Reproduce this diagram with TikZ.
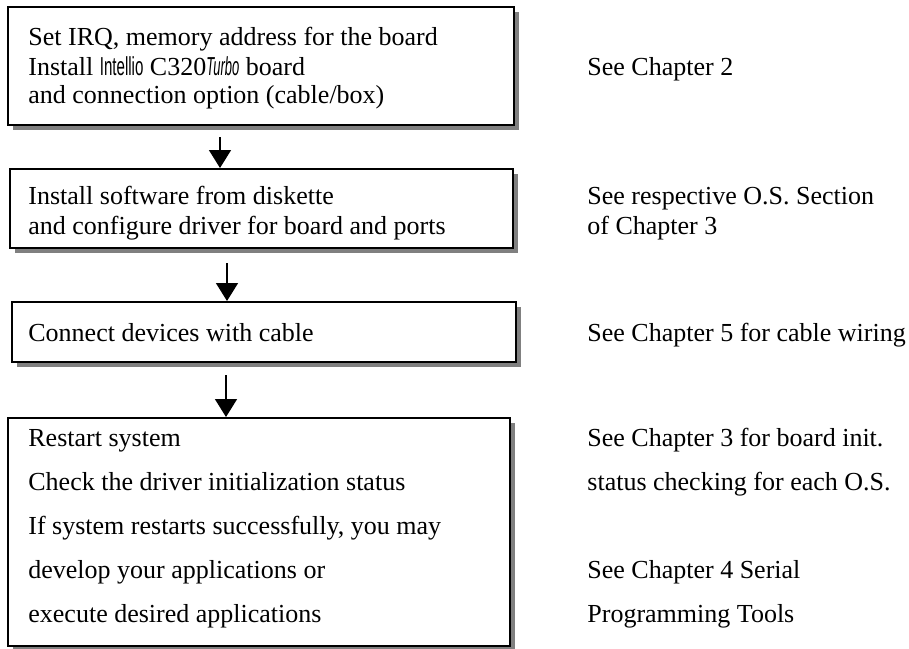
\documentclass[tikz,border=0pt]{standalone}
\usepackage{fontspec}
\setmainfont{Liberation Serif}
\newfontfamily\narrowsans[FakeStretch=0.58]{Liberation Sans}
\newfontfamily\narrowsansit[FakeStretch=0.5,UprightFont=*,ItalicFont=* Italic]{Liberation Sans}
\usetikzlibrary{shadows,arrows.meta}
\tikzset{
  boxst/.style={draw=black, line width=1pt, fill=white, inner sep=0pt, anchor=north west,
    drop shadow={shadow xshift=2.5pt, shadow yshift=-2.5pt, fill=black!50, opacity=1}},
  txt/.style={inner sep=0pt, anchor=base west, font=\fontsize{13pt}{15pt}\selectfont},
  arr/.style={line width=0.8pt, -{Triangle[width=11pt,length=9pt]}}
}
\begin{document}
\begin{tikzpicture}[x=0.5pt,y=-0.5pt]
\useasboundingbox (0,0) rectangle (909,648);
% boxes
\node[boxst, minimum width=253pt, minimum height=59pt] (b1) at (7,6) {};
\node[boxst, minimum width=251.5pt, minimum height=39.5pt] (b2) at (9,168) {};
\node[boxst, minimum width=252pt, minimum height=30pt] (b3) at (11,301) {};
\node[boxst, minimum width=251pt, minimum height=114pt] (b4) at (7,417) {};
% box texts
\node[txt] (t11) at (28,45) {Set IRQ, memory address for the board};
\node[txt] (t12) at (28,75) {Install {\narrowsans Intellio} C320{\narrowsansit\itshape Turbo} board};
\node[txt] (t13) at (28,103) {and connection option (cable/box)};
\node[txt] (t21) at (28,204) {Install software from diskette};
\node[txt] (t22) at (28,234) {and configure driver for board and ports};
\node[txt] (t31) at (28,341) {Connect devices with cable};
\node[txt] (t41) at (28,446) {Restart system};
\node[txt] (t42) at (28,490) {Check the driver initialization status};
\node[txt] (t43) at (28,534) {If system restarts successfully, you may};
\node[txt] (t44) at (28,578) {develop your applications or};
\node[txt] (t45) at (28,622) {execute desired applications};
% right column
\node[txt] (r1) at (587,75) {See Chapter 2};
\node[txt] (r21) at (587,204) {See respective O.S. Section};
\node[txt] (r22) at (587,234) {of Chapter 3};
\node[txt] (r3) at (587,341) {See Chapter 5 for cable wiring};
\node[txt] (r41) at (587,446) {See Chapter 3 for board init.};
\node[txt] (r42) at (587,490) {status checking for each O.S.};
\node[txt] (r44) at (587,578) {See Chapter 4 Serial};
\node[txt] (r45) at (587,622) {Programming Tools};
% arrows
\coordinate (a1) at (220,137);
\coordinate (a2) at (227,263);
\coordinate (a3) at (226,375);
\draw[arr] (a1) -- (a1 |- b2.north);
\draw[arr] (a2) -- (a2 |- b3.north);
\draw[arr] (a3) -- (a3 |- b4.north);
\end{tikzpicture}
\end{document}
